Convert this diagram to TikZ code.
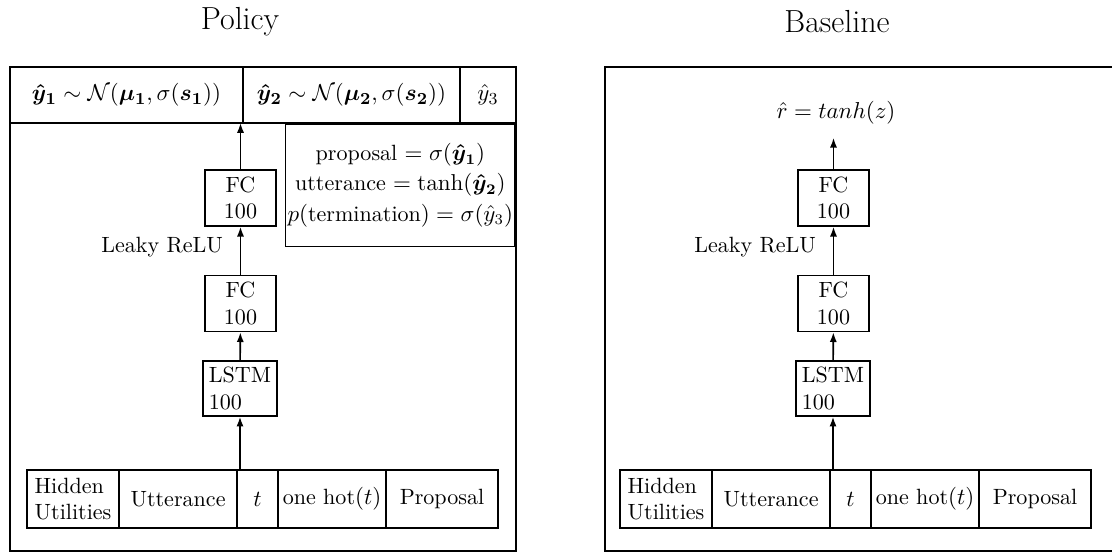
\documentclass[tikz,border=0pt]{standalone}
\usepackage{amsmath,amssymb}
\usepackage{tikz}
\usetikzlibrary{positioning,arrows.meta}

\begin{document}
\begin{tikzpicture}[x=0.476pt, y=-0.476pt, >={Latex[length=4.6pt,width=3.4pt]}, line width=0.75pt,
    every node/.style={font=\fontsize{10.5}{12.6}\selectfont},
    layer/.style={draw, align=center, minimum width=33.8pt, minimum height=26.7pt, inner sep=2pt},
    cell/.style={draw, minimum height=27.6pt, inner sep=2pt, outer sep=0pt},
    head/.style={draw, minimum height=26.7pt, inner sep=0pt, outer sep=0pt, font=\fontsize{11}{13}\selectfont},
    frame/.style={draw, inner sep=0pt, outer sep=0pt, minimum height=230.4pt},
    title/.style={font=\fontsize{15.2}{18}\selectfont}]
  \useasboundingbox (0,0) rectangle (1112,552);

  % policy
  \node[title] (ptitle) at (240,22) {Policy};
  \node[frame, minimum width=240.9pt] (pframe) at (263,309) {};
  \node[head, anchor=north west, minimum width=110.9pt] (ph1) at (10,67)
    {$\boldsymbol{\hat{y}_1} \sim \mathcal{N}(\boldsymbol{\mu_1}, \sigma(\boldsymbol{s_1}))$};
  \node[head, right=0pt of ph1, minimum width=103.3pt] (ph2)
    {$\boldsymbol{\hat{y}_2} \sim \mathcal{N}(\boldsymbol{\mu_2}, \sigma(\boldsymbol{s_2}))$};
  \node[head, right=0pt of ph2, minimum width=26.7pt] (ph3) {$\hat{y}_3$};
  \node[draw, anchor=north east, align=center, minimum width=108.5pt, minimum height=58.5pt,
    inner sep=1pt] (pinfo) at (516,123)
    {proposal $= \sigma(\boldsymbol{\hat{y}_1})$\\[1.8pt]
     utterance $= \tanh(\boldsymbol{\hat{y}_2})$\\[1.8pt]
     $p(\text{termination}) = \sigma(\hat{y}_3)$};
  \node[layer] (pfc2) at (240.5,198) {FC\\100};
  \node[layer] (pfc1) at (240.5,303.5) {FC\\100};
  \node[layer, align=left, minimum width=35.2pt, minimum height=26.2pt] (plstm) at (240,388.5) {LSTM\\100};
  \node[cell, anchor=west, align=left, minimum width=43.8pt] (phid) at (27,499) {Hidden\\Utilities};
  \node[cell, right=0pt of phid, minimum width=56.2pt] (putt) {Utterance};
  \node[cell, right=0pt of putt, minimum width=19.5pt] (pt) {$t$};
  \node[cell, right=0pt of pt, minimum width=51.4pt] (phot) {one hot$(t)$};
  \node[cell, right=0pt of phot, minimum width=53.3pt] (pprop) {Proposal};
  \draw[->] (plstm.south |- putt.north) -- (plstm.south);
  \draw[->] (plstm) -- (pfc1);
  \draw[->] (pfc1) -- node[left=8pt, inner sep=0pt, yshift=1.5pt] (prelu) {Leaky ReLU} (pfc2);
  \draw[->] (pfc2.north) -- (pfc2.north |- ph1.south);

  % baseline
  \node[title] (btitle) at (837,22) {Baseline};
  \node[frame, minimum width=242.3pt] (bframe) at (859.5,309) {};
  \node[inner sep=6pt] (bout) at (836,113) {$\hat{r} = tanh(z)$};
  \node[layer] (bfc2) at (833.5,198) {FC\\100};
  \node[layer] (bfc1) at (833.5,303.5) {FC\\100};
  \node[layer, align=left, minimum width=35.2pt, minimum height=26.2pt] (blstm) at (833,388.5) {LSTM\\100};
  \node[cell, anchor=west, align=left, minimum width=43.8pt] (bhid) at (620,499) {Hidden\\Utilities};
  \node[cell, right=0pt of bhid, minimum width=56.2pt] (butt) {Utterance};
  \node[cell, right=0pt of butt, minimum width=19.5pt] (bt) {$t$};
  \node[cell, right=0pt of bt, minimum width=51.4pt] (bhot) {one hot$(t)$};
  \node[cell, right=0pt of bhot, minimum width=53.3pt] (bprop) {Proposal};
  \draw[->] (blstm.south |- butt.north) -- (blstm.south);
  \draw[->] (blstm) -- (bfc1);
  \draw[->] (bfc1) -- node[left=8pt, inner sep=0pt, yshift=1.5pt] (brelu) {Leaky ReLU} (bfc2);
  \draw[->] (bfc2) -- (bout.south -| bfc2.north);
\end{tikzpicture}
\end{document}
